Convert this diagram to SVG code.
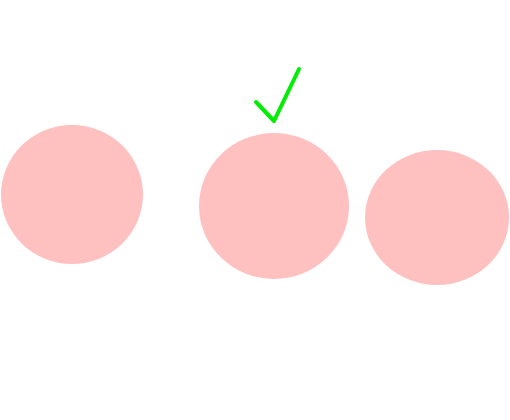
<svg xmlns="http://www.w3.org/2000/svg" width="510" height="420" viewBox="0 0 510 420">
<style>
.blob{fill:#ffc0c0;stroke:none}
.check{fill:none;stroke:#00ee00;stroke-width:4;stroke-linecap:round;stroke-linejoin:round}
</style>
<rect width="510" height="420" fill="#ffffff"/>
<g id="node1"><ellipse class="blob" cx="72" cy="194.5" rx="71" ry="69.5"/></g>
<g id="node2"><ellipse class="blob" cx="274" cy="206" rx="75" ry="73"/></g>
<g id="node3"><ellipse class="blob" cx="437" cy="217.5" rx="72" ry="67.5"/></g>
<g id="mark"><polyline class="check" points="256,102 274,121 299,69"/></g>
</svg>
